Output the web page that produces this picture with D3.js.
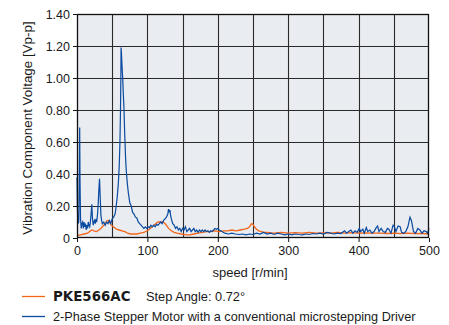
<!DOCTYPE html>
<html>
<head>
<meta charset="utf-8">
<script src="https://cdn.jsdelivr.net/npm/d3@7"></script>
<style>
  body { margin: 0; background: #fff; }
  svg text { font-family: "Liberation Sans", Arial, sans-serif; fill: #1a1a1a; }
</style>
</head>
<body>
<div id="chart"></div>
<script>
// speed [r/min] vs vibration voltage [Vp-p]
const blueX = [0, 0.5, 1, 1.5, 2.5, 3.3, 3.8, 4.3, 5, 6, 7, 8, 9, 10, 11, 12, 13, 14, 15, 16, 17, 18, 19, 20, 21, 22, 23, 24, 25, 26, 27, 28, 29, 30, 31, 32, 33, 34, 35, 36, 38, 40, 42, 44, 46, 48, 50, 52, 54, 55, 57, 58.7, 60, 61, 61.8, 62.3, 62.6, 63.2, 64, 64.9, 65.8, 66.8, 67.7, 69, 70, 71.5, 73, 75, 77, 79, 81, 83, 85, 87, 89, 91, 93, 95, 97, 99, 101, 103, 105, 107, 109, 111, 113, 115, 117, 119, 121, 123, 125, 127, 129, 130, 131, 132, 133, 134, 136, 138, 140, 142, 144, 146, 148, 150, 152, 154, 156, 158, 160, 162, 164, 166, 168, 170, 172, 174, 176, 178, 180, 182, 184, 186, 188, 190, 192, 194, 196, 198, 200, 202, 204, 206, 208, 210, 215, 220, 225, 230, 235, 240, 245, 250, 255, 260, 265, 270, 275, 280, 285, 290, 295, 300, 305, 310, 315, 320, 325, 330, 335, 340, 345, 350, 355, 360, 365, 370, 375, 380, 383, 386, 389, 392, 395, 398, 401, 403, 406, 408, 411, 413, 416, 419, 422, 425, 427, 429, 432, 435, 438, 441, 443, 446, 449, 451, 453, 456, 459, 461, 464, 467, 470, 473, 475, 478, 481, 484, 487, 490, 493, 496, 498, 500];
const blueY = [0.38, 0.2, 0.12, 0.09, 0.1, 0.4, 0.69, 0.35, 0.12, 0.06, 0.09, 0.1, 0.06, 0.1, 0.07, 0.09, 0.05, 0.08, 0.06, 0.1, 0.08, 0.07, 0.1, 0.15, 0.21, 0.12, 0.08, 0.1, 0.11, 0.09, 0.12, 0.1, 0.14, 0.2, 0.3, 0.37, 0.25, 0.14, 0.11, 0.09, 0.1, 0.08, 0.1, 0.09, 0.11, 0.09, 0.12, 0.13, 0.15, 0.175, 0.25, 0.34, 0.45, 0.6, 0.8, 1.0, 1.19, 1.15, 1.07, 1.0, 0.9, 0.8, 0.66, 0.5, 0.42, 0.34, 0.28, 0.22, 0.2, 0.16, 0.15, 0.13, 0.125, 0.1, 0.09, 0.08, 0.07, 0.06, 0.07, 0.06, 0.07, 0.065, 0.08, 0.07, 0.08, 0.07, 0.085, 0.08, 0.09, 0.1, 0.09, 0.11, 0.12, 0.13, 0.15, 0.18, 0.16, 0.175, 0.14, 0.12, 0.09, 0.08, 0.06, 0.07, 0.05, 0.06, 0.04, 0.06, 0.05, 0.07, 0.04, 0.05, 0.06, 0.04, 0.05, 0.06, 0.04, 0.05, 0.035, 0.05, 0.04, 0.05, 0.04, 0.05, 0.04, 0.045, 0.035, 0.045, 0.04, 0.05, 0.06, 0.055, 0.06, 0.05, 0.045, 0.04, 0.035, 0.03, 0.025, 0.03, 0.025, 0.022, 0.025, 0.02, 0.025, 0.022, 0.03, 0.025, 0.035, 0.025, 0.03, 0.022, 0.03, 0.025, 0.02, 0.025, 0.02, 0.025, 0.022, 0.02, 0.025, 0.022, 0.028, 0.025, 0.03, 0.025, 0.035, 0.03, 0.025, 0.03, 0.028, 0.045, 0.03, 0.04, 0.05, 0.03, 0.045, 0.035, 0.06, 0.04, 0.055, 0.03, 0.065, 0.04, 0.05, 0.03, 0.04, 0.065, 0.075, 0.04, 0.06, 0.04, 0.035, 0.06, 0.055, 0.03, 0.08, 0.07, 0.04, 0.075, 0.07, 0.035, 0.03, 0.04, 0.07, 0.13, 0.11, 0.04, 0.03, 0.06, 0.05, 0.03, 0.045, 0.04, 0.03, 0.06];

const orangeX = [0, 5, 10, 15, 18, 21, 24, 28, 31, 34, 37, 40, 42, 44, 46, 48, 50, 53, 56, 60, 64, 68, 72, 76, 80, 85, 90, 95, 100, 104, 108, 112, 115, 118, 121, 124, 127, 130, 134, 138, 142, 148, 155, 160, 166, 172, 178, 184, 190, 196, 202, 208, 214, 220, 226, 232, 238, 242, 245, 248, 250, 252, 255, 258, 262, 266, 270, 280, 290, 300, 310, 320, 330, 340, 350, 360, 370, 380, 390, 400, 410, 420, 430, 440, 450, 460, 470, 480, 490, 500];
const orangeY = [0.015, 0.02, 0.025, 0.03, 0.04, 0.05, 0.045, 0.04, 0.05, 0.06, 0.075, 0.09, 0.105, 0.11, 0.1, 0.085, 0.075, 0.065, 0.055, 0.05, 0.045, 0.04, 0.03, 0.025, 0.025, 0.025, 0.03, 0.035, 0.045, 0.06, 0.075, 0.09, 0.1, 0.1, 0.1, 0.095, 0.08, 0.06, 0.045, 0.035, 0.03, 0.025, 0.02, 0.02, 0.025, 0.03, 0.035, 0.04, 0.04, 0.045, 0.04, 0.045, 0.045, 0.05, 0.045, 0.05, 0.055, 0.06, 0.07, 0.09, 0.085, 0.07, 0.055, 0.045, 0.04, 0.035, 0.035, 0.03, 0.035, 0.03, 0.033, 0.03, 0.035, 0.03, 0.032, 0.03, 0.035, 0.03, 0.033, 0.03, 0.032, 0.03, 0.03, 0.028, 0.03, 0.027, 0.03, 0.027, 0.028, 0.025];

const xTicks = [0, 100, 200, 300, 400, 500];
const yTicks = [0, 0.2, 0.4, 0.6, 0.8, 1.0, 1.2, 1.4];
const xGrid = [50, 100, 150, 200, 250, 300, 350, 400, 450];

const W = 449, H = 325;
const margin = { left: 77, right: 20, top: 14, bottom: 87 };
const pw = W - margin.left - margin.right;
const ph = H - margin.top - margin.bottom;

const svg = d3.select("#chart").append("svg")
    .attr("width", W)
    .attr("height", H);

const x = d3.scaleLinear().domain([0, 500]).range([0, pw]);
const y = d3.scaleLinear().domain([0, 1.4]).range([ph, 0]);

const g = svg.append("g")
    .attr("transform", "translate(" + margin.left + "," + margin.top + ")");

g.append("rect")
    .attr("width", pw)
    .attr("height", ph)
    .attr("fill", "#e9ecf0");

// grid
g.selectAll(".vgrid").data(xGrid).enter().append("line")
    .attr("x1", d => Math.round(x(d)) + 0.5)
    .attr("x2", d => Math.round(x(d)) + 0.5)
    .attr("y1", 0).attr("y2", ph)
    .attr("stroke", "#2a2a2a").attr("stroke-width", 1.1);

g.selectAll(".hgrid").data(yTicks.slice(1, -1)).enter().append("line")
    .attr("y1", d => Math.round(y(d)) + 0.5)
    .attr("y2", d => Math.round(y(d)) + 0.5)
    .attr("x1", 0).attr("x2", pw)
    .attr("stroke", "#2a2a2a").attr("stroke-width", 1.1);

// series
const line = d3.line()
    .x(d => x(d[0]))
    .y(d => y(d[1]));

g.append("path")
    .datum(orangeX.map((v, i) => [v, orangeY[i]]))
    .attr("d", line)
    .attr("fill", "none")
    .attr("stroke", "#f2661a")
    .attr("stroke-width", 1.3);

g.append("path")
    .datum(blueX.map((v, i) => [v, blueY[i]]))
    .attr("d", line)
    .attr("fill", "none")
    .attr("stroke", "#0a4aa0")
    .attr("stroke-width", 1.2);

// frame
g.append("rect")
    .attr("x", 0.5).attr("y", 0.5)
    .attr("width", pw - 1).attr("height", ph - 1)
    .attr("fill", "none")
    .attr("stroke", "#111")
    .attr("stroke-width", 1.3);

// axes
const yAxis = g.append("g")
    .call(d3.axisLeft(y).tickValues(yTicks).tickSize(4).tickPadding(3)
        .tickFormat(d => d === 0 ? "0" : d3.format(".2f")(d)));
const xAxis = g.append("g")
    .attr("transform", "translate(0," + ph + ")")
    .call(d3.axisBottom(x).tickValues(xTicks).tickSize(4).tickPadding(4));

[yAxis, xAxis].forEach(a => {
    a.select(".domain").remove();
    a.selectAll(".tick line").attr("stroke", "#111");
    a.selectAll("text")
        .style("font-size", "12.5px")
        .style("font-family", "'Liberation Sans', Arial, sans-serif")
        .attr("fill", "#1a1a1a");
});

// titles
svg.append("text")
    .attr("transform", "translate(32," + (margin.top + ph / 2 + 2) + ") rotate(-90)")
    .attr("text-anchor", "middle")
    .style("font-size", "13.4px")
    .text("Vibration Component Voltage [Vp-p]");

svg.append("text")
    .attr("x", 250)
    .attr("y", 277)
    .attr("text-anchor", "middle")
    .style("font-size", "13px")
    .text("speed [r/min]");

// legend
const legend = svg.append("g");
legend.append("line")
    .attr("x1", 22).attr("x2", 45).attr("y1", 296.5).attr("y2", 296.5)
    .attr("stroke", "#f2661a").attr("stroke-width", 1.3);
legend.append("text")
    .attr("x", 53).attr("y", 301)
    .style("font-size", "13.4px")
    .style("font-weight", "bold")
    .style("font-family", "'DejaVu Sans', sans-serif")
    .text("PKE566AC");
legend.append("text")
    .attr("x", 146).attr("y", 301)
    .style("font-size", "12.8px")
    .text("Step Angle: 0.72°");

legend.append("line")
    .attr("x1", 22).attr("x2", 45).attr("y1", 316.5).attr("y2", 316.5)
    .attr("stroke", "#0a4aa0").attr("stroke-width", 1.3);
legend.append("text")
    .attr("x", 53).attr("y", 321)
    .style("font-size", "12.7px")
    .text("2-Phase Stepper Motor with a conventional microstepping Driver");
</script>
</body>
</html>
